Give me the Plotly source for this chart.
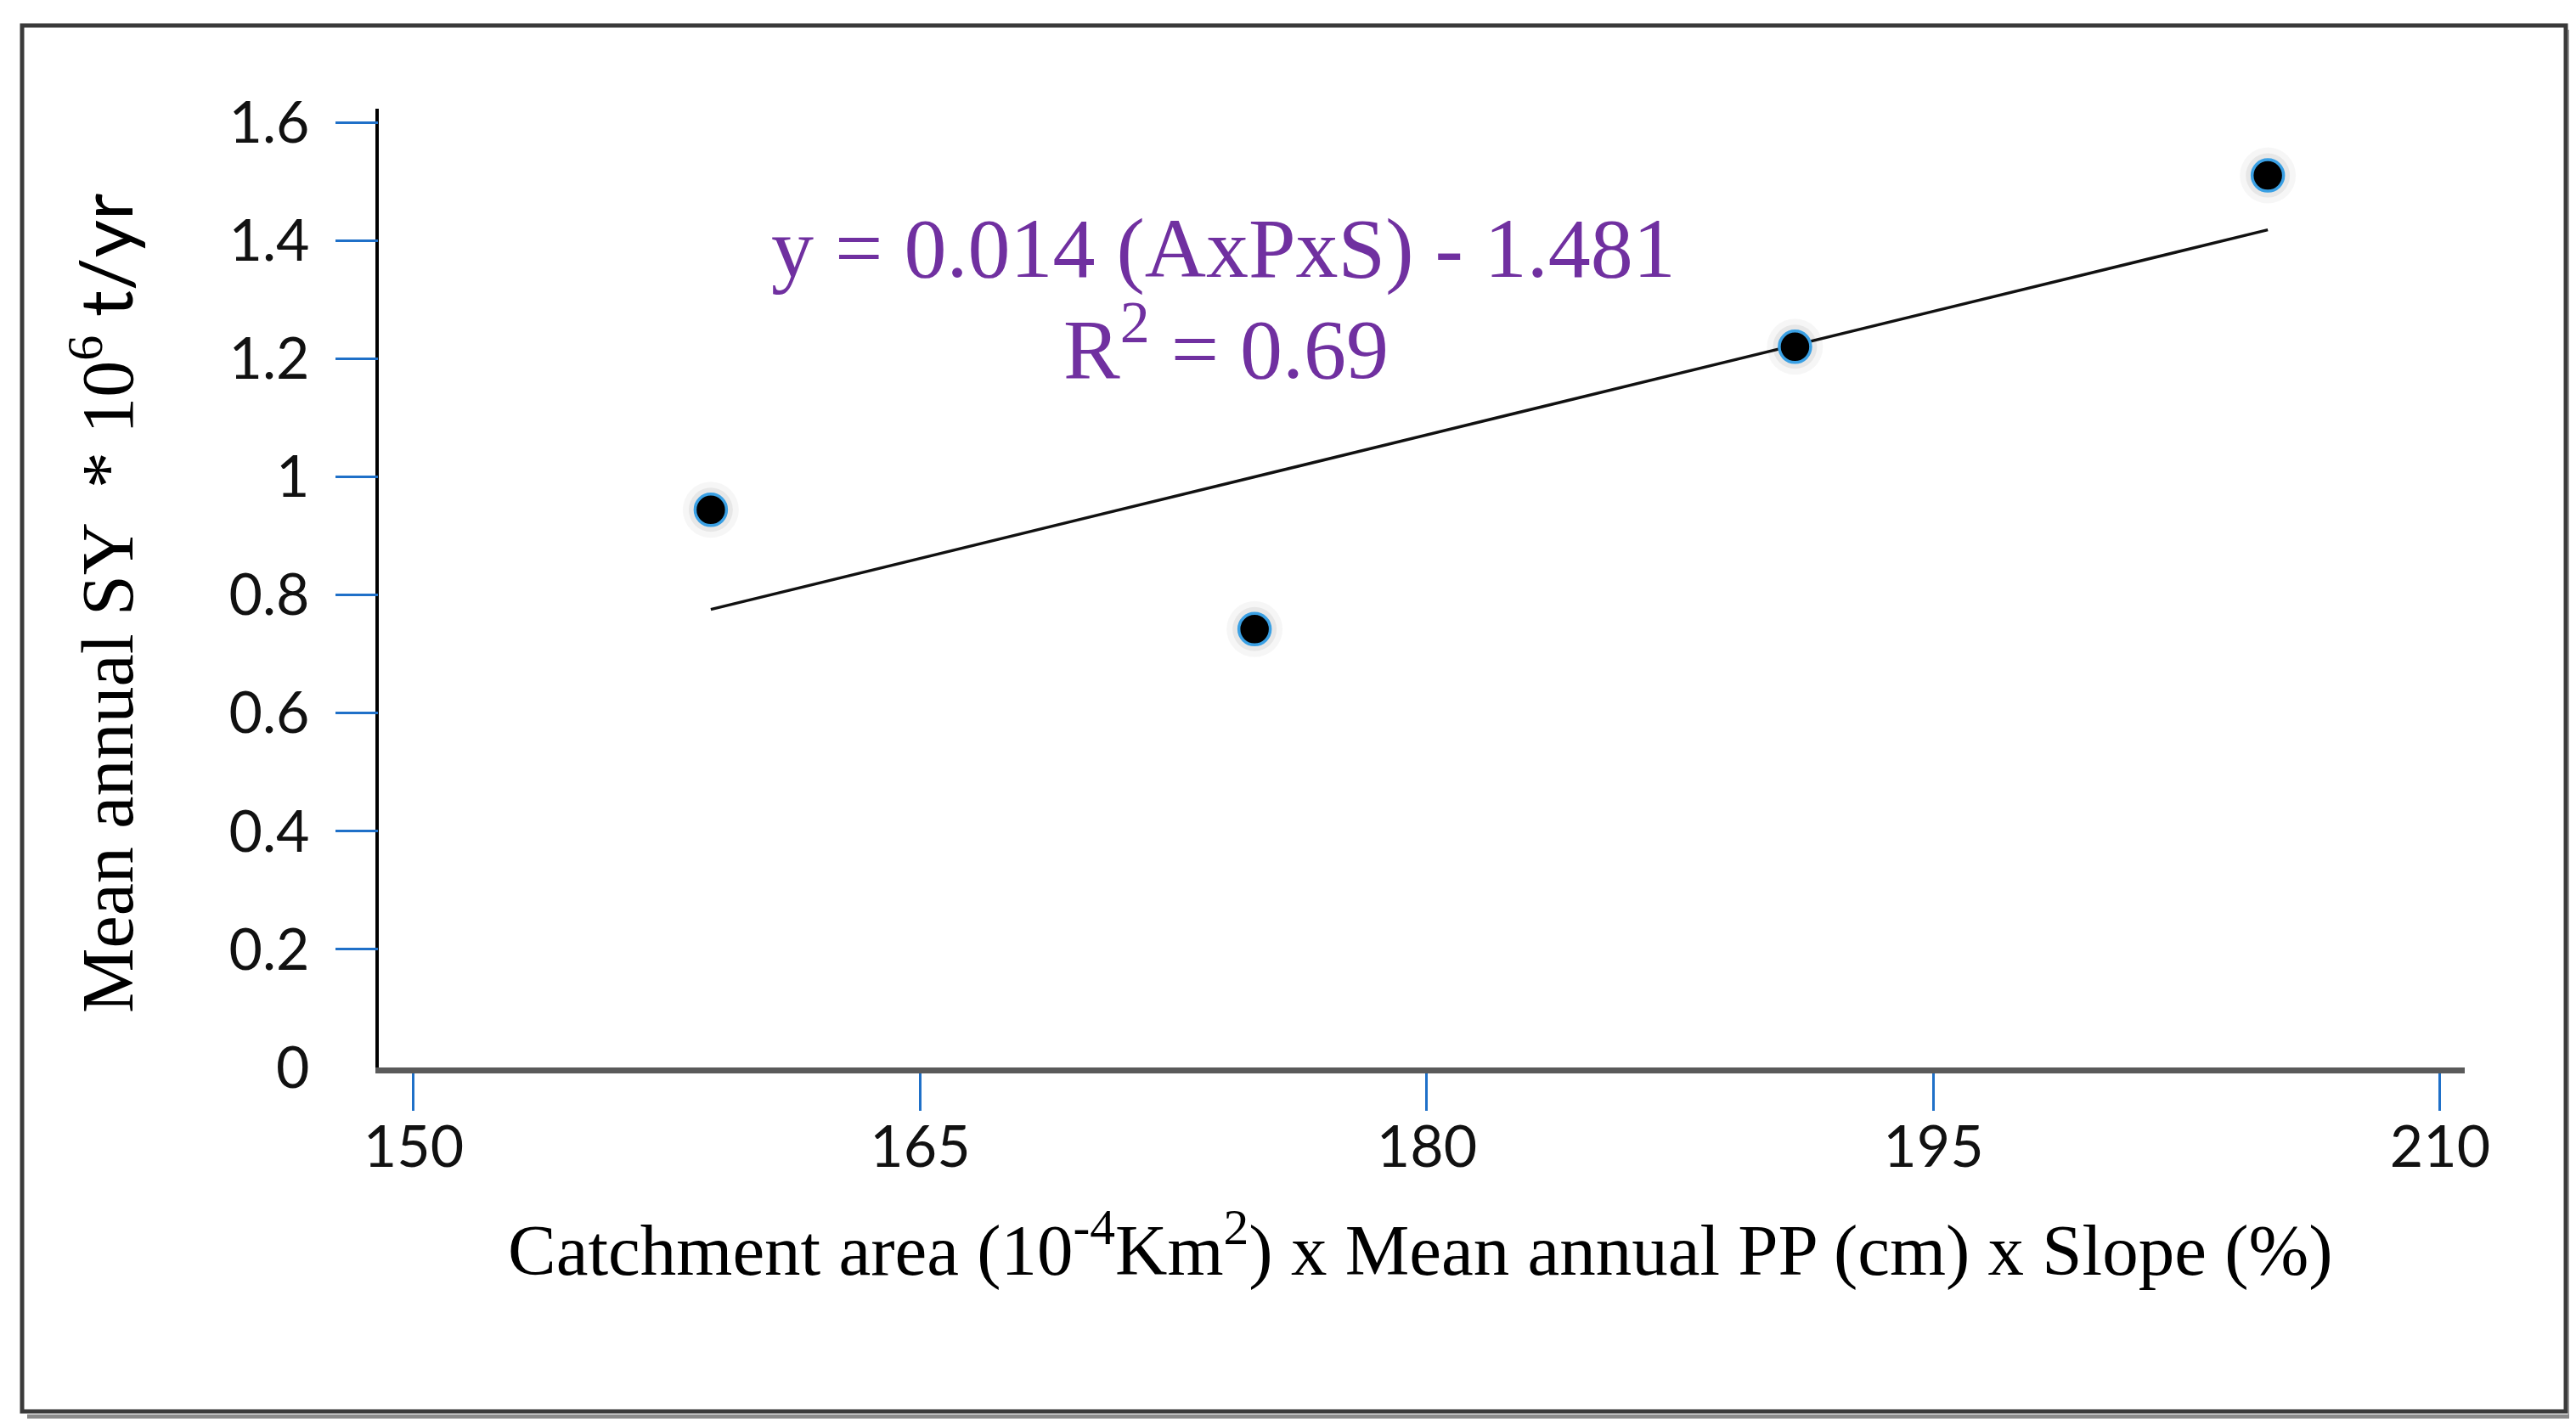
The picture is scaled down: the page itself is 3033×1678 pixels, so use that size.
import numpy as np
import plotly.graph_objects as go

# ---- data ----
axps = [158.8, 174.9, 190.9, 204.9]          # Catchment area x Mean annual PP x Slope
sy = [0.944, 0.742, 1.220, 1.510]             # Mean annual SY (10^6 t/yr)
x_ticks = [150, 165, 180, 195, 210]
y_ticks = [0, 0.2, 0.4, 0.6, 0.8, 1.0, 1.2, 1.4, 1.6]
y_tick_text = ["0", "0.2", "0.4", "0.6", "0.8", "1", "1.2", "1.4", "1.6"]
eq_text = "y = 0.014 (AxPxS) - 1.481"
r2_text = "R<sup>2</sup> = 0.69"

# linear trendline through the data
slope, intercept = np.polyfit(axps, sy, 1)
tx = [min(axps), max(axps)]
ty = [slope * v + intercept for v in tx]

W, H = 3033, 1678
L, R, T, B = 438, 139, 120, 429

TICK_BLUE = "#1f70c8"
SERIF = "Liberation Serif"
SANS = "Lato"

fig = go.Figure()

# soft shadow under markers
fig.add_trace(go.Scatter(x=axps, y=sy, mode="markers", hoverinfo="skip",
                         marker=dict(size=66, color="rgba(0,0,0,0.035)", line=dict(width=0)),
                         showlegend=False))
fig.add_trace(go.Scatter(x=axps, y=sy, mode="markers", hoverinfo="skip",
                         marker=dict(size=52, color="rgba(0,0,0,0.06)", line=dict(width=0)),
                         showlegend=False))
# trendline
fig.add_trace(go.Scatter(x=tx, y=ty, mode="lines",
                         line=dict(color="#111111", width=3.5), showlegend=False))
# data points
fig.add_trace(go.Scatter(x=axps, y=sy, mode="markers",
                         marker=dict(size=37, color="#000000",
                                     line=dict(color="#3aa0e4", width=3.5)),
                         showlegend=False))
# invisible trace on yaxis2 for tick marks
fig.add_trace(go.Scatter(x=axps, y=sy, yaxis="y2", mode="markers",
                         marker=dict(opacity=0), hoverinfo="skip", showlegend=False))

yr = [0, 1.623]
xr = [148.97, 210.73]

fig.update_layout(
    width=W, height=H,
    margin=dict(l=L, r=R, t=T, b=B),
    paper_bgcolor="white", plot_bgcolor="white",
    xaxis=dict(range=xr, tickvals=x_ticks, ticktext=[str(v) for v in x_ticks],
               showgrid=False, zeroline=False,
               showline=True, linecolor="#5a5a5a", linewidth=7,
               ticks="outside", ticklen=44, tickwidth=3, tickcolor=TICK_BLUE,
               ticklabelstandoff=-16,
               tickfont=dict(family=SANS, size=68, color="#111111")),
    yaxis=dict(range=yr, tickvals=y_ticks, ticktext=y_tick_text,
               showgrid=False, zeroline=False,
               showline=True, linecolor="#000000", linewidth=4,
               ticks="", ticklabelstandoff=64,
               tickfont=dict(family=SANS, size=68, color="#111111")),
    yaxis2=dict(range=yr, overlaying="y", side="left",
                tickvals=y_ticks[1:], showticklabels=False,
                showgrid=False, zeroline=False, showline=False,
                ticks="outside", ticklen=50, tickwidth=3, tickcolor=TICK_BLUE),
    font=dict(family=SERIF, color="#000000"),
)

pw = W - L - R
ph = H - T - B
def px(xp):
    return (xp - L) / pw
def py(yp):
    return (H - B - yp) / ph

# axis titles
fig.add_annotation(
    xref="paper", yref="paper", x=px(112), y=py(703), xanchor="center", yanchor="middle",
    textangle=-90, showarrow=False,
    text="Mean annual SY \u00a0* 10<sup>6</sup> <span style='font-family:Lato'>t/yr</span>",
    font=dict(family=SERIF, size=86, color="#000000"))
fig.add_annotation(
    xref="paper", yref="paper", x=px(1664), y=py(1458), xanchor="center", yanchor="middle",
    showarrow=False,
    text="Catchment area (10<sup>-4</sup>Km<sup>2</sup>) x Mean annual PP (cm) x Slope (%)",
    font=dict(family=SERIF, size=85, color="#000000"))

# equation
fig.add_annotation(xref="paper", yref="paper", x=px(1432), y=py(284),
                   xanchor="center", yanchor="middle", showarrow=False,
                   text=eq_text, font=dict(family=SERIF, size=100, color="#7030a0"))
fig.add_annotation(xref="paper", yref="paper", x=px(1435), y=py(396),
                   xanchor="center", yanchor="middle", showarrow=False,
                   text=r2_text, font=dict(family=SERIF, size=100, color="#7030a0"))

# outer frame with drop shadow
fig.add_shape(type="line", xref="paper", yref="paper",
              x0=px(3018), x1=px(3018), y0=py(27), y1=py(1660),
              line=dict(color="#9a9a9a", width=5))
fig.add_shape(type="line", xref="paper", yref="paper",
              x0=px(24), x1=px(3018), y0=py(1660), y1=py(1660),
              line=dict(color="#8a8a8a", width=5))
fig.add_shape(type="rect", xref="paper", yref="paper",
              x0=px(18), x1=px(3013), y0=py(1654), y1=py(22),
              line=dict(color="#3a3a3a", width=5))

fig.write_html("out.html")
